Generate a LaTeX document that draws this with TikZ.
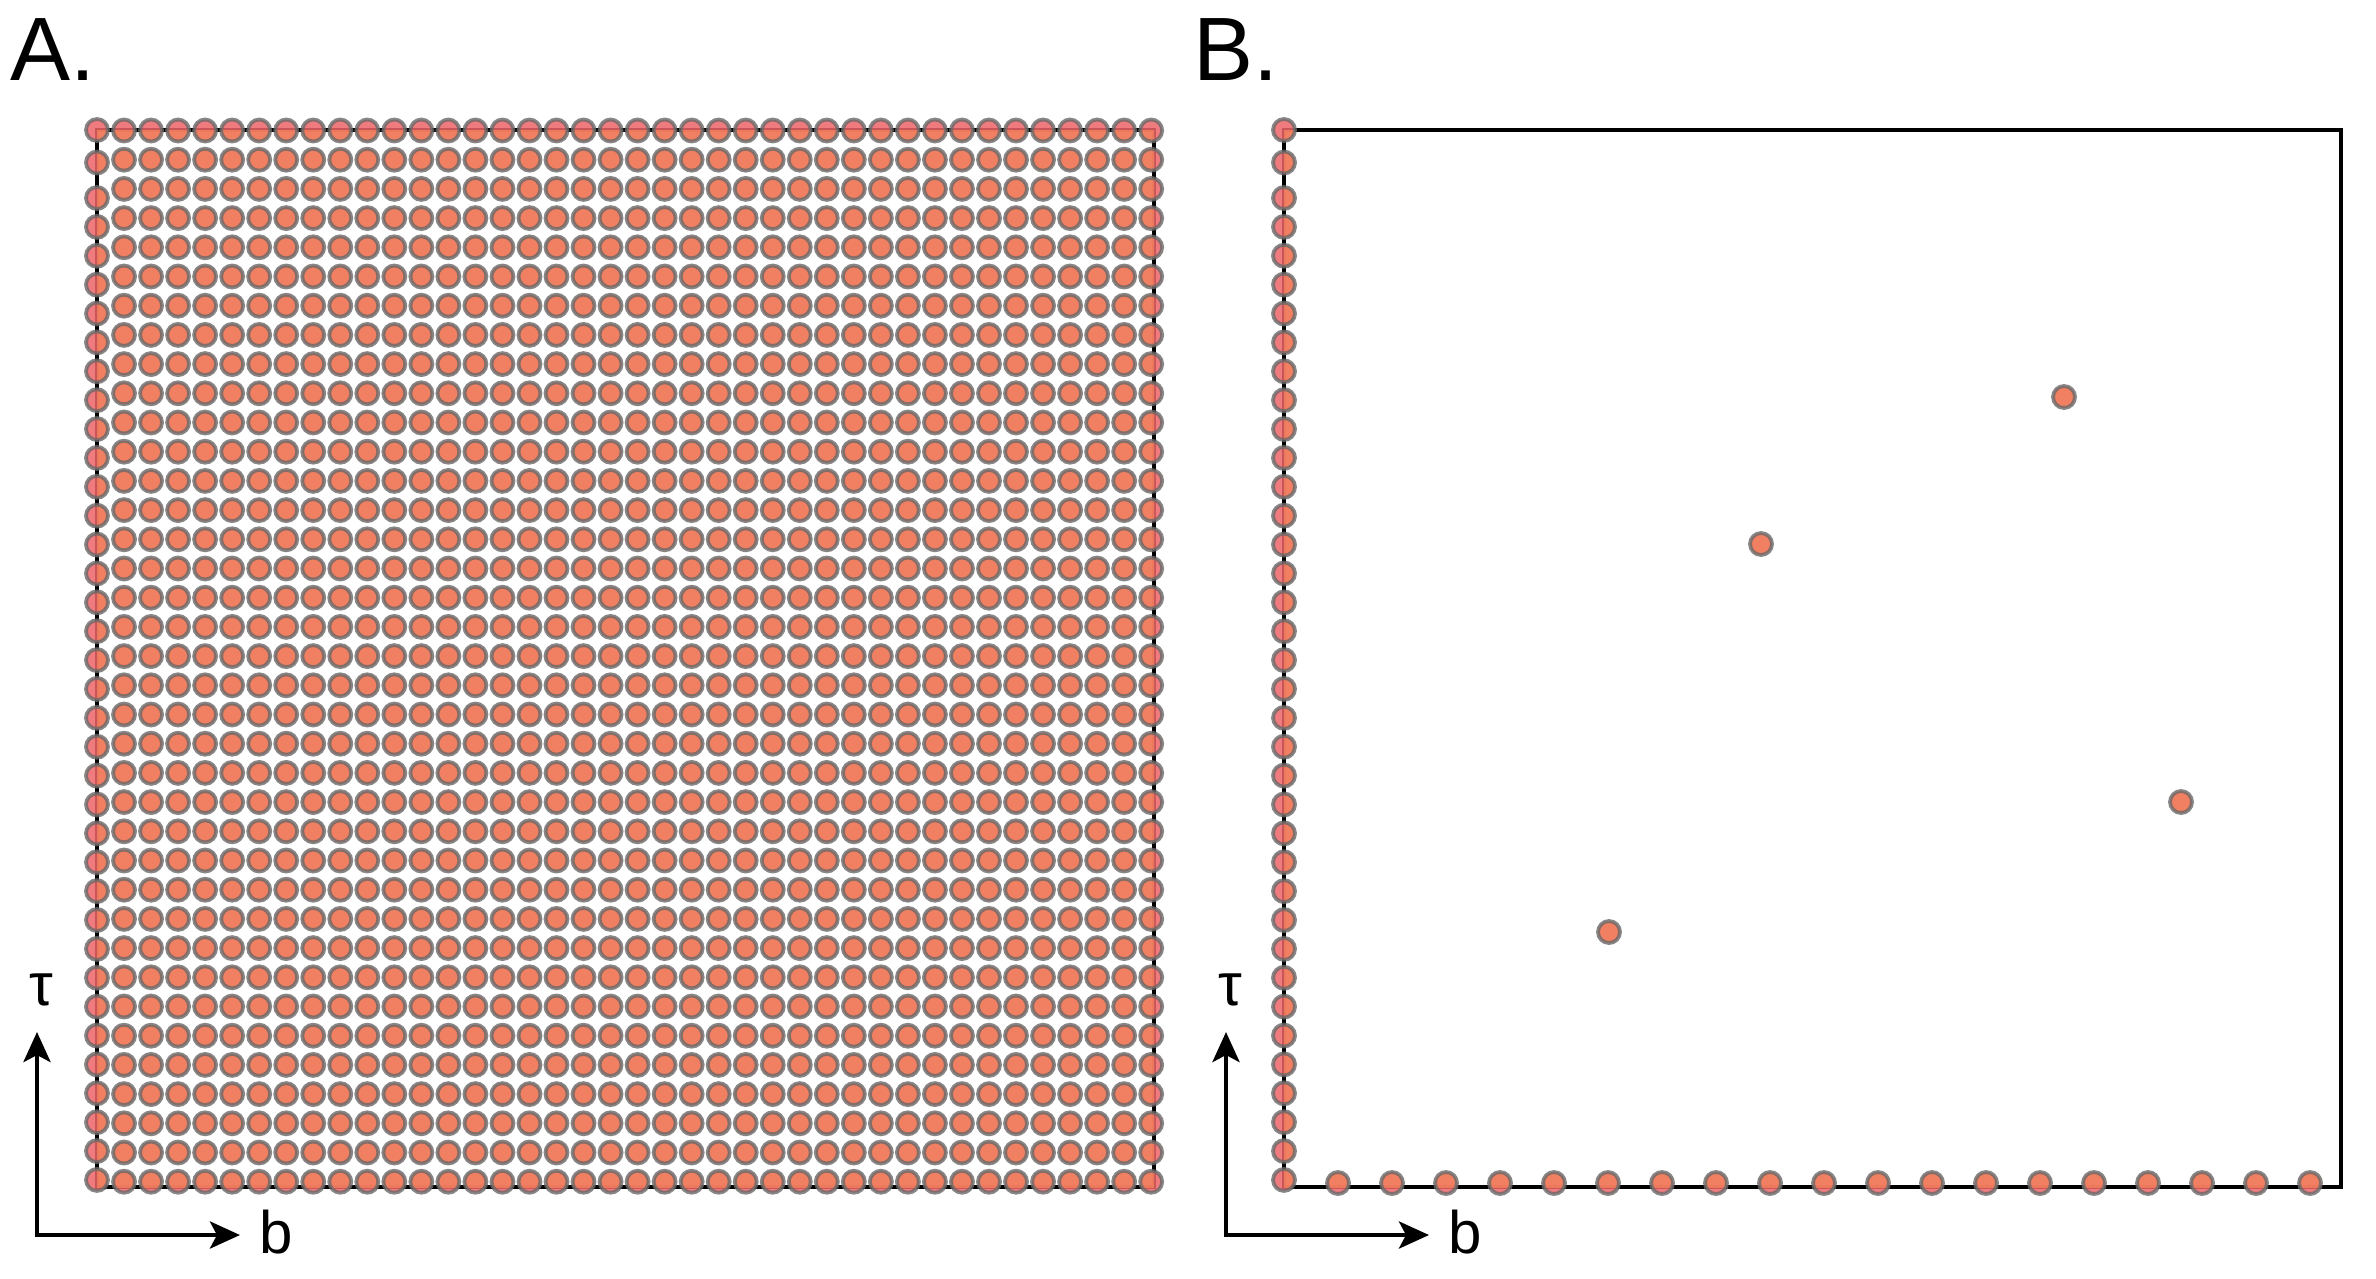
\documentclass[tikz,border=0pt]{standalone}
\usepackage{fontspec}
\setmainfont{Liberation Sans}
\usetikzlibrary{arrows.meta}
\definecolor{dotsalmon}{RGB}{242,128,92}
\definecolor{dotpink}{RGB}{238,100,105}
\definecolor{ringgray}{RGB}{105,105,105}
\tikzset{
  pinkdot/.style={fill=dotpink, fill opacity=0.85},
  salmondot/.style={fill=dotsalmon, fill opacity=0.85},
  ringdot/.style={draw=ringgray, draw opacity=0.8, line width=3.8pt},
  framebox/.style={draw=black, line width=4pt},
  axisarrow/.style={line width=4.5pt, {Stealth[length=30pt,width=27pt,inset=7pt]}-{Stealth[length=30pt,width=27pt,inset=7pt]}},
  panellabel/.style={anchor=base west, inner sep=0pt, font=\fontsize{90}{100}\selectfont},
  axislabel/.style={inner sep=0pt, font=\fontsize{60}{70}\selectfont}
}
\newcommand\myleftcol[2]{%
  \path[#2] (#1,130) circle[radius=11pt];
  \path[#2] (#1,162.5) circle[radius=11pt];
  \foreach \k in {0,...,34}{\path[#2] (#1,{198+28.88*\k}) circle[radius=11pt];}%
}
\newcommand\mygridA[1]{%
  \foreach \i in {1,...,39}{\foreach \j in {0,...,36}{\path[#1] ({97+27.03*\i},{130.5+29.2*\j}) circle[radius=11pt];}}%
}
\newcommand\myextraB[1]{%
  \foreach \k in {1,...,19}{\path[#1] ({1284+54*\k},1183) circle[radius=11pt];}%
  \foreach \px/\py in {2064/397, 1761/544, 2181/802, 1609/932}{\path[#1] (\px,\py) circle[radius=11pt];}%
}
\begin{document}
\begin{tikzpicture}[x=1pt,y=-1pt]
\useasboundingbox[fill=white] (0,0) rectangle (2376,1278);
% frames
\draw[framebox] (97,130) rectangle (1154,1187);
\draw[framebox] (1284,130) rectangle (2341,1187);
% pink (unclipped) layer
\myleftcol{97}{pinkdot}
\mygridA{pinkdot}
\myleftcol{1284}{pinkdot}
\myextraB{pinkdot}
% salmon layer clipped to frames
\begin{scope}
  \clip (97,130) rectangle (1154,1187);
  \myleftcol{97}{salmondot}
  \mygridA{salmondot}
\end{scope}
\begin{scope}
  \clip (1284,130) rectangle (2341,1187);
  \myleftcol{1284}{salmondot}
  \myextraB{salmondot}
\end{scope}
% rings
\myleftcol{97}{ringdot}
\mygridA{ringdot}
\myleftcol{1284}{ringdot}
\myextraB{ringdot}
% panel labels
\node[panellabel] (labA) at (10,80) {A.};
\node[panellabel] (labB) at (1193,80) {B.};
% axes A
\coordinate (tA) at (37,1032);
\coordinate (bA) at (240,1235);
\draw[axisarrow] (tA) |- (bA);
\node[axislabel, anchor=base] (tauA) at (41,1005) {τ};
\node[axislabel, anchor=base west] (bLA) at (259,1253) {b};
% axes B
\coordinate (tB) at (1226,1032);
\coordinate (bB) at (1429,1235);
\draw[axisarrow] (tB) |- (bB);
\node[axislabel, anchor=base] (tauB) at (1230,1005) {τ};
\node[axislabel, anchor=base west] (bLB) at (1448,1253) {b};
\end{tikzpicture}
\end{document}
